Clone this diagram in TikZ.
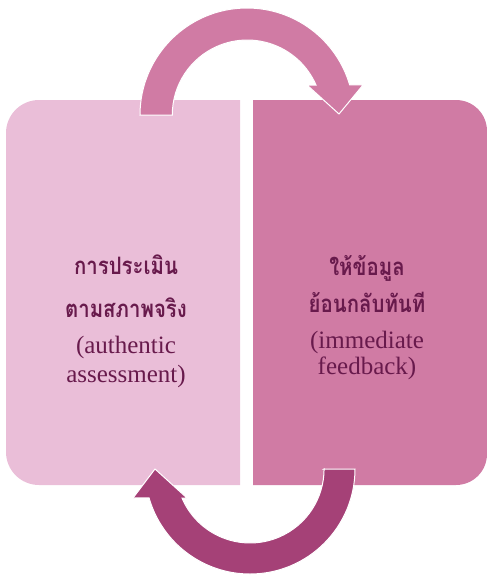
\documentclass[tikz,border=0pt]{standalone}
\usepackage{fontspec}
\setmainfont{Liberation Serif}
\newfontfamily\thaifont[Script=Thai,FakeStretch=0.85]{Loma}
\definecolor{boxlight}{RGB}{234,190,216}
\definecolor{boxdark}{RGB}{208,123,164}
\definecolor{arrowdark}{RGB}{165,65,119}
\definecolor{txt}{RGB}{104,26,76}
\tikzset{
  thaitxt/.style={anchor=base, inner sep=0pt, text=txt, font=\thaifont\bfseries\fontsize{24}{24}\selectfont},
  engtxt/.style={anchor=base, inner sep=0pt, text=txt, font=\fontsize{25}{25}\selectfont},
  arrowshape/.style={draw=white, line width=1pt, line join=miter}
}
\begin{document}
\begin{tikzpicture}[x=1pt,y=-1pt]
\useasboundingbox (0,0) rectangle (487,576);
% boxes
\fill[boxlight] (240,100) -- (39,100) arc[start angle=270, end angle=180, radius=33]
  -- (6,452) arc[start angle=180, end angle=90, radius=33] -- (240,485) -- cycle;
\fill[boxdark] (253,100) -- (456,100) arc[start angle=270, end angle=360, radius=31]
  -- (487,454) arc[start angle=0, end angle=90, radius=31] -- (253,485) -- cycle;
% top arrow
\filldraw[arrowshape, fill=boxdark] (247,115) ++(180:75) -- ++(-32,0)
  arc[start angle=180, end angle=343.7, radius=107]
  -- (363,85) -- (339,114) -- (307,85) -- (316,85)
  arc[start angle=336.4, end angle=180, radius=75] -- cycle;
% bottom arrow
\filldraw[arrowshape, fill=arrowdark] (324,469) -- (355,469)
  arc[start angle=0, end angle=164, radius=105]
  -- (133,498) -- (155,469) -- (187,498) -- (182,498)
  arc[start angle=156.9, end angle=0, radius=74] -- cycle;
% left text
\node[thaitxt] (l1) at (126,274) {การประเมิน};
\node[thaitxt] (l2) at (126,317) {ตามสภาพจริง};
\node[engtxt] (l3) at (126,353) {(authentic};
\node[engtxt] (l4) at (126,382) {assessment)};
% right text
\node[thaitxt] (r1) at (367,275) {ให้ข้อมูล};
\node[thaitxt] (r2) at (367,312) {ย้อนกลับทันที};
\node[engtxt] (r3) at (367,348) {(immediate};
\node[engtxt] (r4) at (367,374) {feedback)};
\end{tikzpicture}
\end{document}
